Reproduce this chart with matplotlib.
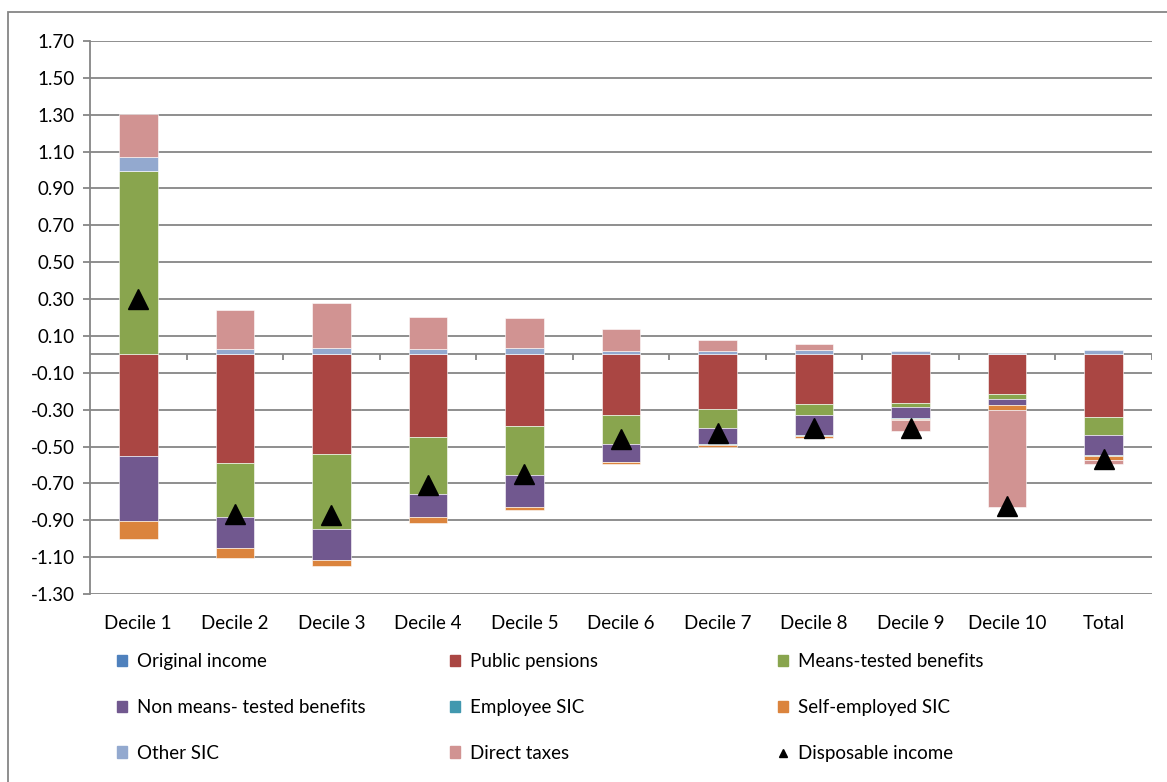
import matplotlib.pyplot as plt
from matplotlib.patches import Rectangle
import numpy as np

plt.rcParams['font.family'] = ['Lato', 'DejaVu Sans']

categories = ['Decile 1', 'Decile 2', 'Decile 3', 'Decile 4', 'Decile 5', 'Decile 6',
              'Decile 7', 'Decile 8', 'Decile 9', 'Decile 10', 'Total']

# components of the change
original_income = [0, 0, 0, 0, 0, 0, 0, 0, 0, 0, 0]
public_pensions = [-0.551, -0.591, -0.540, -0.446, -0.389, -0.331, -0.298, -0.269, -0.266, -0.215, -0.341]
means_tested = [0.997, -0.289, -0.407, -0.310, -0.265, -0.153, -0.103, -0.058, -0.018, -0.029, -0.095]
non_means_tested = [-0.351, -0.172, -0.169, -0.128, -0.176, -0.098, -0.085, -0.112, -0.063, -0.031, -0.110]
employee_sic = [0, 0, 0, 0, 0, -0.002, -0.004, -0.002, -0.004, 0, -0.003]
self_employed_sic = [-0.098, -0.054, -0.030, -0.031, -0.016, -0.013, -0.012, -0.014, -0.005, -0.027, -0.024]
other_sic = [0.076, 0.031, 0.033, 0.028, 0.037, 0.020, 0.020, 0.024, 0.017, 0.006, 0.024]
direct_taxes = [0.231, 0.210, 0.246, 0.177, 0.159, 0.116, 0.058, 0.031, -0.060, -0.528, -0.022]
disposable_income = [0.30, -0.864, -0.87, -0.71, -0.65, -0.46, -0.425, -0.40, -0.40, -0.823, -0.57]

series = [
    ('Original income', original_income, '#4F81BD'),
    ('Public pensions', public_pensions, '#AA4643'),
    ('Means-tested benefits', means_tested, '#89A54E'),
    ('Non means- tested benefits', non_means_tested, '#71588F'),
    ('Employee SIC', employee_sic, '#4198AF'),
    ('Self-employed SIC', self_employed_sic, '#DB843D'),
    ('Other SIC', other_sic, '#93A9CF'),
    ('Direct taxes', direct_taxes, '#D19392'),
]

fs = 13.5

fig = plt.figure(figsize=(11.67, 7.82), dpi=100)
ax = fig.add_axes([90 / 1167, 1 - 594 / 782, (1152 - 90) / 1167, (594 - 41) / 782])

x = np.arange(len(categories))
pos_base = np.zeros(len(categories))
neg_base = np.zeros(len(categories))
colors = {}
for name, vals, col in series:
    v = np.array(vals, dtype=float)
    bottoms = np.where(v >= 0, pos_base, neg_base)
    ax.bar(x, v, 0.4, bottom=bottoms, color=col, edgecolor='white', linewidth=0.4, zorder=3, label=name)
    colors[name] = col
    pos_base = pos_base + np.where(v > 0, v, 0)
    neg_base = neg_base + np.where(v < 0, v, 0)

ax.plot(x, disposable_income, linestyle='none', marker='^', markersize=15, color='black',
        zorder=5, label='Disposable income')

ax.set_xlim(-0.5, len(categories) - 0.5)
ax.set_ylim(-1.30, 1.70)
yt = np.arange(-1.30, 1.71, 0.20)
ax.set_yticks(yt)
ax.set_yticklabels([f'{t:.2f}' for t in yt])
ax.yaxis.grid(True, color='#868686', linewidth=1.3, zorder=0)
ax.set_axisbelow(True)

# zero line with category separators
ax.axhline(0, color='#868686', linewidth=1.3, zorder=2)
ax.vlines(np.arange(0.5, len(categories), 1), -0.033, 0, color='#868686', linewidth=1.3, zorder=2)

ax.set_xticks(x)
ax.set_xticklabels(categories)
ax.tick_params(axis='x', length=0, pad=15, labelsize=fs)
ax.tick_params(axis='y', length=5, width=1.3, color='#868686', pad=6, labelsize=fs)

for s in ['top', 'right', 'bottom']:
    ax.spines[s].set_visible(False)
ax.spines['left'].set_color('#868686')
ax.spines['left'].set_linewidth(1.3)

# legend in three columns placed side by side
cols = [['Original income', 'Non means- tested benefits', 'Other SIC'],
        ['Public pensions', 'Employee SIC', 'Direct taxes'],
        ['Means-tested benefits', 'Self-employed SIC', 'Disposable income']]
col_x = [117, 450, 778]
for cx, names in zip(col_x, cols):
    hs = []
    for n in names:
        if n == 'Disposable income':
            hs.append(plt.Line2D([], [], linestyle='none', marker='^', markersize=6, color='black'))
        else:
            hs.append(Rectangle((0, 0), 1, 1, color=colors[n]))
    fig.legend(hs, names, loc='upper left', bbox_to_anchor=(cx / 1167, 1 - 653 / 782),
               frameon=False, fontsize=fs, handlelength=0.55, handleheight=0.55,
               handletextpad=0.5, labelspacing=1.54, borderaxespad=0, borderpad=0)

fig.patches.append(Rectangle((8 / 1167, -0.01), 1.2, 1 - 12 / 782 + 0.01, transform=fig.transFigure,
                             fill=False, edgecolor='#868686', linewidth=1.3))

fig.savefig('out.png', dpi=100)
